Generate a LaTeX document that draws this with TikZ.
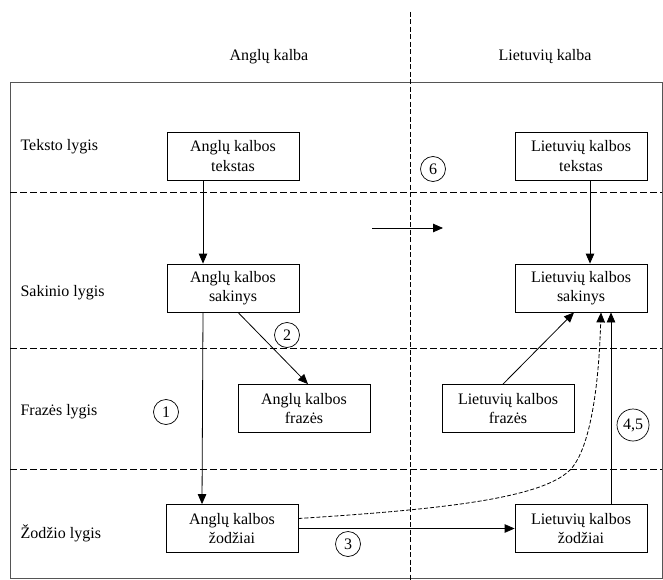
\documentclass[tikz,border=0pt]{standalone}
\usepackage{fontspec}
\setmainfont{Liberation Serif}
\usetikzlibrary{arrows.meta,calc}
\definecolor{fgray}{HTML}{555555}

\begin{document}
\begin{tikzpicture}[x=1pt,y=-1pt,
  font=\fontsize{16}{19.5}\selectfont,
  box/.style={draw, align=center, minimum width=132pt, minimum height=48pt, inner sep=2pt, line width=0.8pt},
  lvl/.style={anchor=west},
  num/.style={draw, circle, inner sep=1pt, minimum size=25pt, line width=0.7pt},
  arr/.style={-{Triangle[length=10pt,width=8.5pt]}, line width=0.8pt},
  sep/.style={dash pattern=on 7pt off 3pt, line width=0.8pt}]
\useasboundingbox (0,0) rectangle (663,580);

% --- frame, level separators and language divider ---
\draw[fgray, line width=1pt] (10,83) rectangle (662,578);
\foreach \yy in {192,348,469} \draw[sep] (10,\yy) -- (662,\yy);
\draw[dash pattern=on 5pt off 2.5pt, line width=0.7pt] (410,12) -- (410,580);

% column headings
\node (hEN) at (269,57) {Anglų kalba};
\node (hLT) at (545,57) {Lietuvių kalba};

% level names
\node[lvl] (lT) at (17,147) {Teksto lygis};
\node[lvl] (lS) at (17,293) {Sakinio lygis};
\node[lvl] (lF) at (17,412) {Frazės lygis};
\node[lvl] (lZ) at (17,533) {Žodžio lygis};

% --- boxes, English side ---
\node[box] (tEN) at (233,156)   {Anglų kalbos\\tekstas};
\node[box] (sEN) at (233,288)   {Anglų kalbos\\sakinys};
\node[box] (fEN) at (304,408.5) {Anglų kalbos\\frazės};
\node[box] (zEN) at (232,528.5) {Anglų kalbos\\žodžiai};

% --- boxes, Lithuanian side ---
\node[box] (tLT) at (581,156)   {Lietuvių kalbos\\tekstas};
\node[box] (sLT) at (581,288)   {Lietuvių kalbos\\sakinys};
\node[box] (fLT) at (508,408.5) {Lietuvių kalbos\\frazės};
\node[box] (zLT) at (581,528.5) {Lietuvių kalbos\\žodžiai};

% step numbers
\node[num] (n1) at (166,412) {1};
\node[num] (n2) at (287,335) {2};
\node[num] (n3) at (348,544) {3};
\node[num, minimum size=32pt] (n45) at (633,425) {4,5};
\node[num] (n6) at (433,169) {6};

% --- connectors ---
\coordinate (m0) at (372,228);
\coordinate (m1) at (443,228);
\draw[arr] (m0) -- (m1);
\draw[arr] ([xshift=-30pt]tEN.south) -- ([xshift=-30pt]sEN.north);
\draw[arr] ([xshift=9pt]tLT.south) -- ([xshift=9pt]sLT.north);
\draw[arr] ([xshift=-30pt]sEN.south) -- ([xshift=-30pt]zEN.north);
\draw[arr] ([xshift=5pt]sEN.south) -- ([xshift=4pt]fEN.north);
\draw[arr] ([xshift=-5pt]fLT.north) -- ([xshift=-7pt]sLT.south);
\draw[arr] (zEN.east) -- (zLT.west);
\draw[arr] ([xshift=30pt]zLT.north) -- ([xshift=30pt]sLT.south);
\draw[arr, dash pattern=on 4pt off 2pt] ([yshift=10pt]zEN.east)
  .. controls (430,510) and (540,500) .. (570,470)
  .. controls (585,455) and (598,410) .. ([xshift=20pt]sLT.south);
\end{tikzpicture}
\end{document}
